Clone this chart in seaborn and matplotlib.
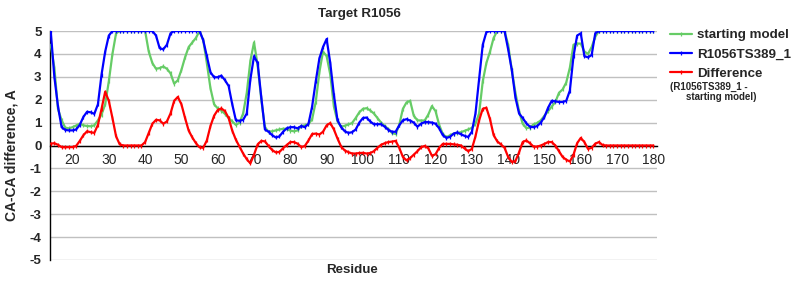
import matplotlib
matplotlib.use("Agg")
import matplotlib.pyplot as plt
import seaborn as sns
import pandas as pd
from matplotlib.lines import Line2D

# ---------------- data ----------------
residues = list(range(14, 181))

starting_model = [
    4.4, 3.4, 1.6, 1.1, 0.78, 0.75,                                   # 14-19
    0.8, 0.87, 0.95, 0.88, 0.85, 0.84, 0.88, 1.1, 1.35, 1.8,          # 20-29
    2.8, 4.0, 4.9, 5, 5, 5, 5, 5, 5, 5,                               # 30-39
    5, 4.1, 3.6, 3.35, 3.38, 3.45, 3.35, 3.15, 2.7, 2.85,             # 40-49
    3.3, 3.85, 4.3, 4.5, 4.7, 5, 4.6, 3.6, 2.5, 1.8,                  # 50-59
    1.62, 1.52, 1.38, 1.2, 1.05, 0.9, 1.0, 1.4, 2.3, 3.7,             # 60-69
    4.5, 3.5, 2.0, 0.8, 0.6, 0.62, 0.66, 0.7, 0.73, 0.73,             # 70-79
    0.65, 0.62, 0.66, 0.85, 0.88, 0.93, 1.15, 1.9, 3.2, 4.1,          # 80-89
    3.9, 3.1, 1.7, 1.05, 0.82, 0.86, 0.92, 0.98, 1.2, 1.45,           # 90-99
    1.6, 1.63, 1.53, 1.4, 1.2, 1.0, 0.85, 0.72, 0.55, 0.5,            # 100-109
    0.9, 1.6, 1.88, 1.95, 1.3, 1.1, 1.09, 1.09, 1.35, 1.72,           # 110-119
    1.5, 0.9, 0.5, 0.36, 0.45, 0.52, 0.55, 0.58, 0.64, 0.7,           # 120-129
    0.77, 0.95, 1.4, 2.8, 3.6, 4.1, 4.7, 5, 5, 5,                     # 130-139
    4.4, 3.3, 2.3, 1.5, 0.95, 0.76, 0.78, 0.92, 0.98, 1.1,            # 140-149
    1.3, 1.5, 1.7, 1.9, 2.3, 2.45, 2.75, 3.4, 4.4, 4.45,              # 150-159
    4.45, 4.1, 4.0, 4.3, 4.75, 5, 5, 5, 5, 5,                         # 160-169
    5, 5, 5, 5, 5, 5, 5, 5, 5, 5, 5,                                  # 170-180
]

model_r1056ts389_1 = [
    5.0, 3.0, 1.7, 0.8, 0.68, 0.66,                                   # 14-19
    0.66, 0.7, 0.9, 1.25, 1.47, 1.45, 1.38, 1.8, 3.1, 4.1,            # 20-29
    4.8, 5, 5, 5, 5, 5, 5, 5, 5, 5,                                   # 30-39
    5, 5, 5, 4.8, 4.25, 4.2, 4.4, 4.9, 5, 5,                          # 40-49
    5, 5, 5, 5, 5, 5, 4.6, 3.9, 3.2, 2.98,                            # 50-59
    2.98, 3.05, 2.85, 2.6, 1.8, 1.1, 1.08, 1.12, 1.4, 2.9,            # 60-69
    3.9, 3.6, 2.1, 0.7, 0.6, 0.45, 0.35, 0.4, 0.6, 0.75,              # 70-79
    0.8, 0.8, 0.75, 0.85, 0.8, 0.95, 1.7, 2.8, 3.8, 4.3,              # 80-89
    4.65, 3.6, 2.2, 1.1, 0.8, 0.62, 0.55, 0.58, 0.7, 1.0,             # 90-99
    1.2, 1.22, 1.05, 0.93, 0.93, 0.93, 0.82, 0.68, 0.6, 0.6,          # 100-109
    0.88, 1.1, 1.15, 1.09, 1.0, 0.82, 0.95, 1.02, 1.02, 1.0,          # 110-119
    0.95, 0.75, 0.45, 0.33, 0.38, 0.52, 0.57, 0.49, 0.42, 0.37,       # 120-129
    0.6, 1.4, 2.9, 4.4, 4.95, 5, 5, 5, 5, 5,                          # 130-139
    4.2, 3.3, 2.1, 1.4, 1.2, 0.97, 0.82, 0.8, 0.85, 1.0,              # 140-149
    1.25, 1.65, 1.95, 1.93, 1.9, 1.9, 1.95, 2.4, 3.9, 4.8,            # 150-159
    4.9, 3.9, 3.85, 3.95, 4.9, 5, 5, 5, 5, 5,                         # 160-169
    5, 5, 5, 5, 5, 5, 5, 5, 5, 5, 5,                                  # 170-180
]

difference = [
    0.08, 0.1, 0.03, -0.07, -0.08, -0.07,                             # 14-19
    -0.07, -0.02, 0.2, 0.45, 0.62, 0.58, 0.55, 0.9, 1.6, 2.35,        # 20-29
    1.95, 1.2, 0.4, 0.05, 0, 0, 0, 0, 0, 0,                           # 30-39
    0.15, 0.55, 0.95, 1.12, 1.1, 0.95, 1.05, 1.4, 1.95, 2.12,         # 40-49
    1.8, 1.2, 0.65, 0.35, 0.1, -0.08, -0.1, 0.22, 0.85, 1.3,          # 50-59
    1.55, 1.62, 1.5, 1.2, 0.65, 0.25, -0.05, -0.35, -0.6, -0.78,      # 60-69
    -0.4, 0.05, 0.2, 0.18, -0.02, -0.2, -0.3, -0.28, -0.12, 0.02,     # 70-79
    0.15, 0.15, 0.08, -0.07, -0.02, 0.22, 0.5, 0.52, 0.48, 0.6,       # 80-89
    0.88, 0.98, 0.7, 0.3, -0.05, -0.22, -0.29, -0.35, -0.35, -0.33,   # 90-99
    -0.32, -0.35, -0.33, -0.25, -0.1, 0.03, 0.1, 0.15, 0.17, 0.2,     # 100-109
    -0.1, -0.5, -0.65, -0.55, -0.4, -0.25, -0.08, -0.02, -0.12, -0.45,  # 110-119
    -0.38, -0.1, 0.07, 0.07, 0.07, 0.05, 0.03, 0.0, -0.13, -0.25,     # 120-129
    -0.15, 0.4, 1.1, 1.6, 1.65, 1.15, 0.45, 0.18, 0.05, -0.1,         # 130-139
    -0.5, -0.72, -0.68, -0.3, 0.15, 0.22, 0.1, -0.05, -0.05, 0.0,     # 140-149
    0.07, 0.15, 0.15, 0.0, -0.25, -0.5, -0.62, -0.7, -0.4, 0.1,       # 150-159
    0.33, 0.15, -0.15, -0.1, 0.08, 0.15, 0.02, 0, 0, 0,               # 160-169
    0, 0, 0, 0, 0, 0, 0, 0, 0, 0, 0,                                  # 170-180
]

x_ticks = list(range(20, 181, 10))
y_ticks = list(range(-5, 6))
series_labels = ["starting model", "R1056TS389_1", "Difference"]
series_colors = ["#66CC66", "#0000FF", "#FF0000"]

# ---------------- style ----------------
sns.set_style("white")
plt.rcParams["font.family"] = ["Liberation Sans", "DejaVu Sans"]
plt.rcParams["axes.unicode_minus"] = False

FS = 9.6
fig = plt.figure(figsize=(8, 3), dpi=100)
ax = fig.add_axes([50 / 800, 40 / 300, 607 / 800, 229 / 300])

df = pd.DataFrame({
    "residue": residues,
    series_labels[0]: starting_model,
    series_labels[1]: model_r1056ts389_1,
    series_labels[2]: difference,
})

for lab, col in zip(series_labels, series_colors):
    sns.lineplot(data=df, x="residue", y=lab, ax=ax, color=col,
                 linewidth=1.6, marker="|", markersize=3.5,
                 markeredgewidth=0.9, markeredgecolor=col, zorder=3)

ax.set_xlim(13.8, 181)
ax.set_ylim(-5, 5)
ax.set_xlabel("")
ax.set_ylabel("")

ax.set_yticks(y_ticks)
ax.set_yticklabels([str(t) for t in y_ticks], fontweight="bold", fontsize=FS)
ax.set_xticks(x_ticks)
ax.set_xticklabels([str(t) for t in x_ticks], fontweight="bold", fontsize=FS)

ax.yaxis.grid(True, color="#C0C0C0", linewidth=1.0, zorder=0)
ax.xaxis.grid(False)
ax.set_axisbelow(True)

for s in ("top", "right"):
    ax.spines[s].set_visible(False)
ax.spines["left"].set_color("black")
ax.spines["left"].set_linewidth(1.0)
ax.spines["bottom"].set_position(("data", 0))
ax.spines["bottom"].set_color("black")
ax.spines["bottom"].set_linewidth(1.0)
ax.spines["bottom"].set_zorder(2)

ax.tick_params(axis="x", length=4, color="#B0B0B0", pad=1.5, direction="out")
ax.tick_params(axis="y", length=0, pad=6)

fig.text(359 / 800, 1 - 14 / 300, "Target R1056", ha="center", va="center",
         fontweight="bold", fontsize=FS)
fig.text(12 / 800, 1 - 155 / 300, "CA-CA difference, A", ha="center",
         va="center", rotation=90, fontweight="bold", fontsize=10)
fig.text(352 / 800, 1 - 270 / 300, "Residue", ha="center", va="center",
         fontweight="bold", fontsize=FS)

handles = [Line2D([0], [0], color=c, linewidth=1.6, marker="|", markersize=3.5,
                  markeredgewidth=0.9) for c in series_colors]
fig.legend(handles, series_labels, loc="upper left",
           bbox_to_anchor=(670 / 800, 1 - 29 / 300), frameon=False,
           borderpad=0, borderaxespad=0, handlelength=1.65,
           handletextpad=0.4, labelspacing=0.52,
           prop={"weight": "bold", "size": FS})
fig.text(670 / 800, 1 - 86.5 / 300, "(R1056TS389_1 -", ha="left", va="center",
         fontweight="bold", fontsize=7.0)
fig.text(686 / 800, 1 - 97 / 300, "starting model)", ha="left", va="center",
         fontweight="bold", fontsize=7.0)

fig.savefig("out.png", dpi=100)
